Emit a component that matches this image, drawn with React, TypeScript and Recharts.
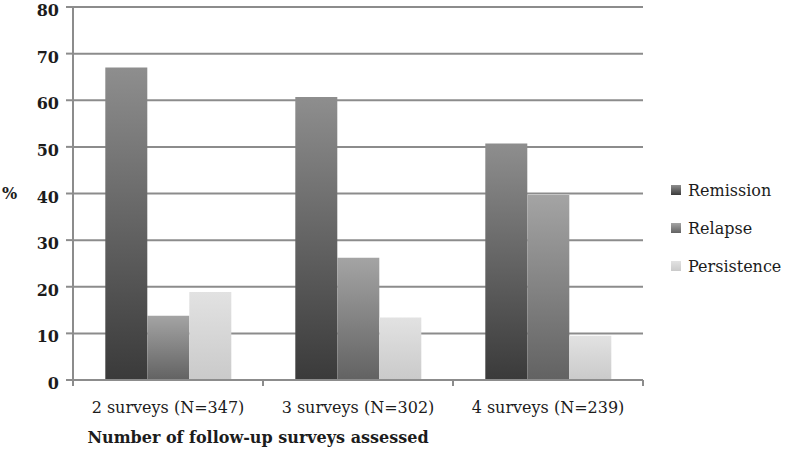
import React from "react";
import { BarChart, Bar, XAxis, YAxis, CartesianGrid } from "recharts";

const categories = ["2 surveys (N=347)", "3 surveys (N=302)", "4 surveys (N=239)"];
const remission = [67, 60.7, 50.7];
const relapse = [13.8, 26.2, 39.7];
const persistence = [18.9, 13.4, 9.5];
const yTicks = [0, 10, 20, 30, 40, 50, 60, 70, 80];
const xTitle = "Number of follow-up surveys assessed";

const data = categories.map((c, i) => ({
  name: c,
  Remission: remission[i],
  Relapse: relapse[i],
  Persistence: persistence[i],
}));

const FONT = "DejaVu Serif, serif";
const FS = 16;
const W = 786;
const H = 450;
const MARGIN = { top: 7, right: 143, bottom: 0, left: 0 };
const YW = 73;
const XH = 70;
const BAND = (W - MARGIN.left - MARGIN.right - YW) / categories.length;
const TXT = "#1c1c1c";

const series = [
  { key: "Remission", id: "gRem", top: "#8e8e8e", bottom: "#3a3a3a" },
  { key: "Relapse", id: "gRel", top: "#a4a4a4", bottom: "#626262" },
  { key: "Persistence", id: "gPer", top: "#e2e2e2", bottom: "#cacaca" },
];

const XTick = (props: any) => {
  const { x, y, payload } = props;
  return (
    <g>
      <line x1={x - BAND / 2} x2={x - BAND / 2} y1={y - 8} y2={y - 2} stroke="#8c8c8c" strokeWidth={2} />
      <line x1={x + BAND / 2} x2={x + BAND / 2} y1={y - 8} y2={y - 2} stroke="#8c8c8c" strokeWidth={2} />
      <text x={x} y={y + 25} textAnchor="middle" style={{ fontFamily: FONT, fontSize: FS }} fill={TXT}>
        {payload.value}
      </text>
    </g>
  );
};

const YTick = (props: any) => {
  const { x, y, payload } = props;
  return (
    <text x={x - 1} y={y + 9} textAnchor="end" style={{ fontFamily: FONT, fontSize: FS, fontWeight: 700 }} fill={TXT}>
      {payload.value}
    </text>
  );
};

const XTitle = (props: any) => {
  const vb = props.viewBox || { x: 0, y: 0, width: 0, height: 0 };
  return (
    <text
      x={vb.x + vb.width / 2 - 100}
      y={vb.y + vb.height - 7}
      textAnchor="middle"
      style={{ fontFamily: FONT, fontSize: FS, fontWeight: 700 }}
      fill={TXT}
    >
      {xTitle}
    </text>
  );
};

export default function App() {
  return (
    <div style={{ position: "absolute", left: 0, top: 0, width: W, height: H, background: "#fff" }}>
      <BarChart width={W} height={H} data={data} margin={MARGIN} barCategoryGap="17%" barGap={0}>
        <defs>
          {series.map((s) => (
            <linearGradient key={s.id} id={s.id} x1="0" y1="0" x2="0" y2="1">
              <stop offset="0%" stopColor={s.top} />
              <stop offset="100%" stopColor={s.bottom} />
            </linearGradient>
          ))}
        </defs>
        <CartesianGrid vertical={false} stroke="#8c8c8c" strokeWidth={2} />
        <XAxis
          dataKey="name"
          height={XH}
          tick={<XTick />}
          tickLine={false}
          axisLine={{ stroke: "#8c8c8c", strokeWidth: 2 }}
          interval={0}
          label={<XTitle />}
        />
        <YAxis
          width={YW}
          domain={[0, 80]}
          ticks={yTicks}
          interval={0}
          tickSize={7}
          tickMargin={6}
          tickLine={{ stroke: "#8c8c8c", strokeWidth: 2 }}
          axisLine={{ stroke: "#8c8c8c", strokeWidth: 2 }}
          tick={<YTick />}
          label={{
            value: "%",
            position: "insideLeft",
            offset: 2,
            style: { fontFamily: FONT, fontSize: FS, fontWeight: 700, fill: TXT },
          }}
        />
        {series.map((s) => (
          <Bar key={s.key} dataKey={s.key} fill={`url(#${s.id})`} isAnimationActive={false} />
        ))}
      </BarChart>
      <div style={{ position: "absolute", left: 671, top: 171, fontFamily: FONT, fontSize: FS, color: TXT }}>
        {series.map((s) => (
          <div key={s.key} style={{ display: "flex", alignItems: "center", height: 38 }}>
            <svg width={10} height={10} style={{ marginRight: 7 }}>
              <defs>
                <linearGradient id={"l" + s.id} x1="0" y1="0" x2="0" y2="1">
                  <stop offset="0%" stopColor={s.top} />
                  <stop offset="100%" stopColor={s.bottom} />
                </linearGradient>
              </defs>
              <rect x={0} y={0} width={10} height={10} fill={`url(#l${s.id})`} />
            </svg>
            <span>{s.key}</span>
          </div>
        ))}
      </div>
    </div>
  );
}
